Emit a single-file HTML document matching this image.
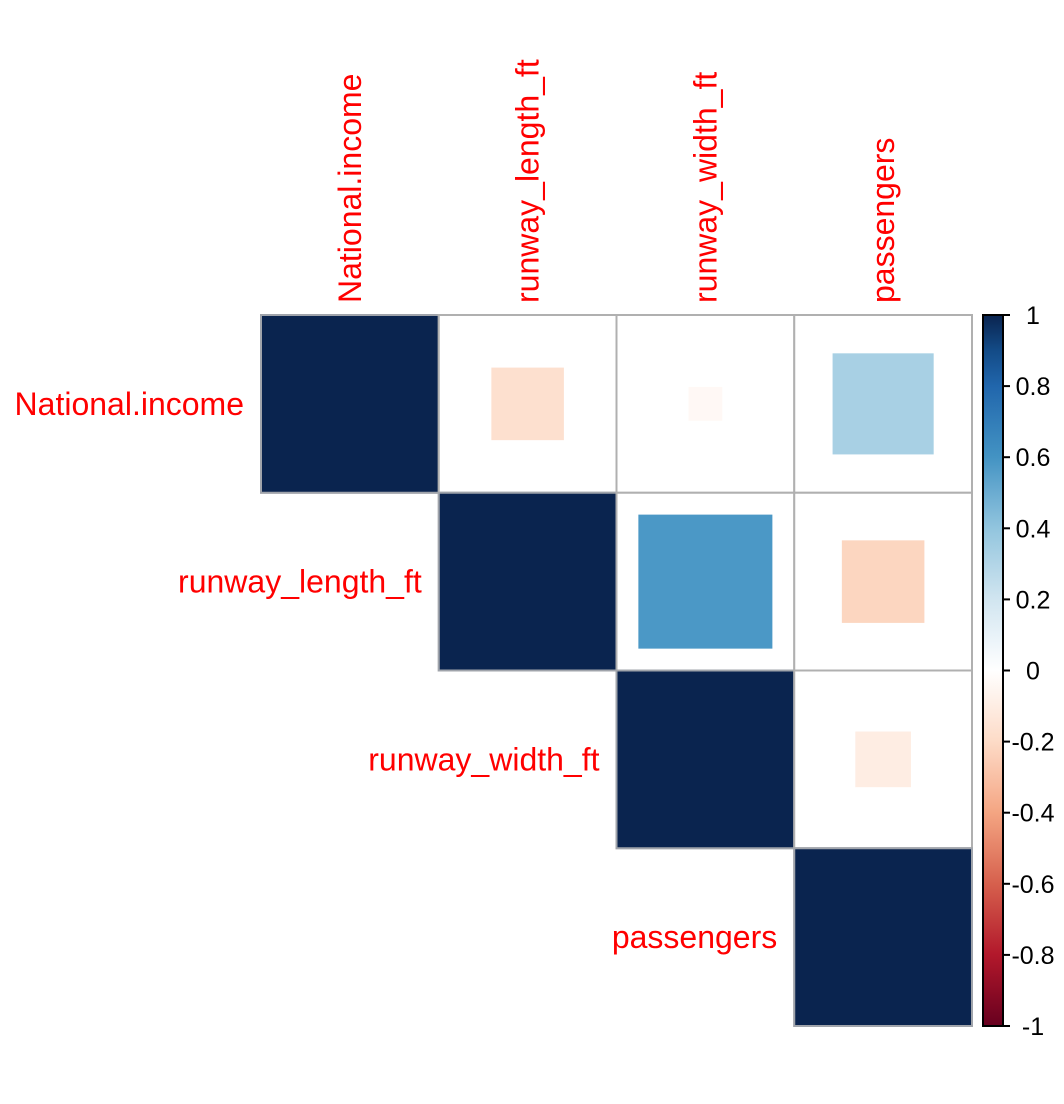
<!DOCTYPE html>
<html><head><meta charset="utf-8"><style>
html,body{margin:0;padding:0;background:#fff;}
svg{display:block;font-family:"Liberation Sans",Arial,sans-serif;}
</style></head><body>
<svg id="chart" width="1064" height="1104" viewBox="0 0 1064 1104" xmlns="http://www.w3.org/2000/svg"></svg>
<script>
const variables = ["National.income","runway_length_ft","runway_width_ft","passengers"];
const corrRow0 = [1, -0.17, -0.037, 0.33];
const corrRow1 = [-0.17, 1, 0.58, -0.22];
const corrRow2 = [-0.037, 0.58, 1, -0.10];
const corrRow3 = [0.33, -0.22, -0.10, 1];
const colorbarTicks = [1,0.8,0.6,0.4,0.2,0,-0.2,-0.4,-0.6,-0.8,-1];
const tickLabels = ["1","0.8","0.6","0.4","0.2","0","-0.2","-0.4","-0.6","-0.8","-1"];

const matrix=[corrRow0,corrRow1,corrRow2,corrRow3];
const NS="http://www.w3.org/2000/svg";
const svg=document.getElementById('chart');
const X0=261,Y0=315,GW=711,n=variables.length,cell=GW/n;
const stops=[[-1,[103,0,31]],[-0.8,[178,24,43]],[-0.6,[214,96,77]],[-0.4,[244,165,130]],[-0.2,[253,219,199]],[0,[255,255,255]],[0.2,[209,229,240]],[0.4,[146,197,222]],[0.6,[67,147,195]],[0.8,[33,102,172]],[1,[5,48,97]]];
function color(v){
  for(let i=0;i<stops.length-1;i++){
    if(v<=stops[i+1][0]){const t=(v-stops[i][0])/(stops[i+1][0]-stops[i][0]);
      const c=stops[i][1].map((a,k)=>Math.round(a+(stops[i+1][1][k]-a)*t));return `rgb(${c})`;}
  }return 'rgb(5,48,97)';
}
function xPos(j){return X0+j*cell;}
function yPos(i){return Y0+i*cell;}
function mk(tag,attrs){const e=document.createElementNS(NS,tag);for(const k in attrs)e.setAttribute(k,attrs[k]);svg.appendChild(e);return e;}

for(let i=0;i<n;i++){
  for(let j=i;j<n;j++){
    const v=matrix[i][j];
    const bg=mk('rect',{x:xPos(j),y:yPos(i),width:cell,height:cell,fill:'#fff',stroke:'#b0b0b0','stroke-width':2});
    
    
    const s=Math.sqrt(Math.abs(v))*cell*(v===1?1:0.99);
    const sq=mk('rect',{x:xPos(j)+(cell-s)/2,y:yPos(i)+(cell-s)/2,width:s,height:s,fill:v===1?'#0a244f':color(v)});
    
    
    if(v===1){sq.setAttribute('stroke','#a0a4ab');sq.setAttribute('stroke-width',2);}
  }
}
for(let i=0;i<n;i++){
  const t=mk('text',{x:xPos(i)-17,y:yPos(i)+cell/2+11,'text-anchor':'end','font-size':32,fill:'#ff0000'});
  t.textContent=variables[i];
  
  
  const cx=xPos(i)+cell/2+11;
  const c=mk('text',{x:cx,y:303,transform:`rotate(-90 ${cx} 303)`,'font-size':32,fill:'#ff0000'});
  c.textContent=variables[i];
  
  
}
const CBX=983,CBW=20,CBT=315,CBB=1026;
const defs=mk('defs',{});
const g=document.createElementNS(NS,'linearGradient');g.setAttribute('id','cbg');g.setAttribute('x1',0);g.setAttribute('y1',0);g.setAttribute('x2',0);g.setAttribute('y2',1);
defs.appendChild(g);
for(let k=0;k<=20;k++){const v=1-k/10;const st=document.createElementNS(NS,'stop');st.setAttribute('offset',k/20);st.setAttribute('stop-color',v>=0.99?'#0a244f':color(v));g.appendChild(st);}
const cb=mk('rect',{x:CBX,y:CBT,width:CBW,height:CBB-CBT,fill:'url(#cbg)',stroke:'#000','stroke-width':2});


function cbY(v){return CBT+(1-v)/2*(CBB-CBT);}
colorbarTicks.forEach((v,k)=>{
  const y=cbY(v);
  const tk=mk('line',{x1:CBX+CBW,x2:CBX+CBW+7,y1:y,y2:y,stroke:'#000','stroke-width':2});
  
  
  const tl=mk('text',{x:1033,y:y+9,'text-anchor':'middle','font-size':25,fill:'#000'});
  tl.textContent=tickLabels[k];
  
  
});
</script>
</body></html>
